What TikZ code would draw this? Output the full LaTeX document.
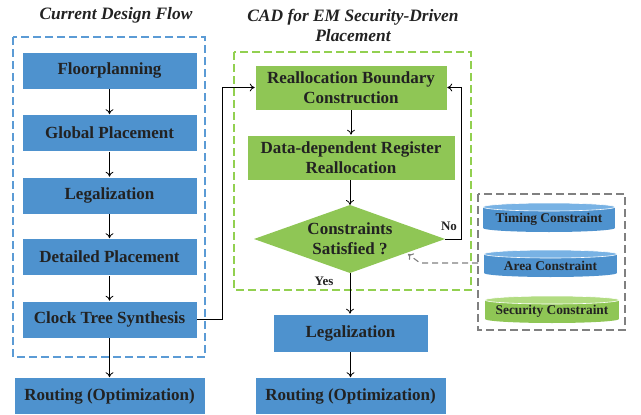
\documentclass[tikz,border=0pt]{standalone}
\usepackage{fontspec}
\setmainfont{Liberation Serif}
\usetikzlibrary{arrows.meta}
\definecolor{myblue}{RGB}{78,146,206}
\definecolor{mybluelt}{RGB}{120,178,228}
\definecolor{mygreen}{RGB}{143,198,85}
\definecolor{mygreenlt}{RGB}{178,220,130}
\definecolor{txt}{RGB}{34,34,34}
\definecolor{bluedash}{RGB}{91,155,213}
\definecolor{greendash}{RGB}{146,208,80}
\definecolor{graydash}{RGB}{128,128,128}
\tikzset{
  box/.style={draw=white, line width=0.6pt, inner sep=0pt, text=txt, align=center,
    font=\fontsize{17}{20}\selectfont\bfseries},
  bbox/.style={box, fill=myblue},
  gbox/.style={box, fill=mygreen},
  flow/.style={draw=black, line width=0.8pt, -{To[length=5pt,width=8pt]}},
  ttl/.style={align=center, text=txt, font=\fontsize{17.4}{20}\selectfont\bfseries\itshape},
  lbl/.style={text=txt, font=\fontsize{13}{15}\selectfont\bfseries},
  ctext/.style={text=txt, font=\fontsize{13.4}{15}\selectfont\bfseries},
  panel/.style={line width=1.2pt, dash pattern=on 8pt off 4pt},
}
\begin{document}
\begin{tikzpicture}[x=1pt,y=-1pt]
\useasboundingbox (0,0) rectangle (641,415);
% titles
\node[ttl] (t1) at (116,15) {Current Design Flow};
\node[ttl] (t2) at (353,25) {CAD for EM Security-Driven\\Placement};
% dashed panels
\draw[bluedash, panel] (13,37) rectangle (205,357);
\draw[greendash, panel] (234,52) rectangle (471,290);
\draw[graydash, panel] (478,194) rectangle (625,330);
% left flow
\node[bbox, minimum width=175pt, minimum height=37pt] (fp) at (109.5,70.5) {Floorplanning};
\node[bbox, minimum width=175pt, minimum height=37pt] (gp) at (109.5,133) {Global Placement};
\node[bbox, minimum width=175pt, minimum height=37pt] (lg1) at (109.5,195.5) {Legalization};
\node[bbox, minimum width=175pt, minimum height=37pt] (dp) at (109.5,257) {Detailed Placement};
\node[bbox, minimum width=175pt, minimum height=37pt] (cts) at (109.5,319.5) {Clock Tree Synthesis};
\node[bbox, minimum width=191pt, minimum height=37pt] (rt1) at (109.5,396) {Routing (Optimization)};
\draw[flow] (fp) -- (gp);
\draw[flow] (gp) -- (lg1);
\draw[flow] (lg1) -- (dp);
\draw[flow] (dp) -- (cts);
\draw[flow] (cts) -- (rt1);
% right flow
\node[gbox, minimum width=192pt, minimum height=45pt] (rbc) at (351,87.5) {Reallocation Boundary\\Construction};
\node[gbox, minimum width=208pt, minimum height=45pt] (drr) at (351,157.5) {Data-dependent Register\\Reallocation};
\fill[mygreen] (254,239) -- (350,205) -- (445,239) -- (350,273) -- cycle;
\coordinate (diaT) at (350,205);
\coordinate (diaR) at (445,239);
\coordinate (diaB) at (350,273);
\coordinate (diaE) at (408,254);
\node[box, draw=none] (dia) at (350,239) {Constraints\\Satisfied ?};
\node[bbox, minimum width=155pt, minimum height=38pt] (lg2) at (350.5,333) {Legalization};
\node[bbox, minimum width=191pt, minimum height=37pt] (rt2) at (350.5,396) {Routing (Optimization)};
\draw[flow] (rbc) -- (drr);
\draw[flow] (drr.south -| diaT) -- (diaT);
\draw[flow] (diaB) -- (lg2.north -| diaB);
\draw[flow] (lg2) -- (rt2.north -| lg2);
\draw[flow] (cts.east) -- (222,319.5) |- (rbc.west);
\draw[flow] (diaR) -- (461,239) |- (rbc.east);
\node[lbl] (no) at (449,226) {No};
\node[lbl] (yes) at (324,281) {Yes};
% constraints
\fill[myblue] (483,207) rectangle (615,228);
\fill[myblue] (549,228) ellipse [x radius=66, y radius=4];
\fill[mybluelt, draw=white, line width=0.6pt] (549,207) ellipse [x radius=66, y radius=4];
\node[ctext] (tc) at (549,219) {Timing Constraint};
\fill[myblue] (484,254) rectangle (617,273);
\fill[myblue] (550.5,273) ellipse [x radius=66.5, y radius=4];
\fill[mybluelt, draw=white, line width=0.6pt] (550.5,254) ellipse [x radius=66.5, y radius=4];
\node[ctext] (ac) at (550.5,265.5) {Area Constraint};
\fill[mygreen] (485,300) rectangle (619,319);
\fill[mygreen] (552,319) ellipse [x radius=67, y radius=4];
\fill[mygreenlt, draw=white, line width=0.6pt] (552,300) ellipse [x radius=67, y radius=4];
\node[ctext] (sc) at (552,311.5) {Security Constraint};
\coordinate (cbox) at (478,263);
\draw[graydash, line width=1.1pt, dash pattern=on 6pt off 4pt, -{To[length=5pt,width=8pt]}] (cbox) -- (420,263) -- (diaE);
\end{tikzpicture}
\end{document}
